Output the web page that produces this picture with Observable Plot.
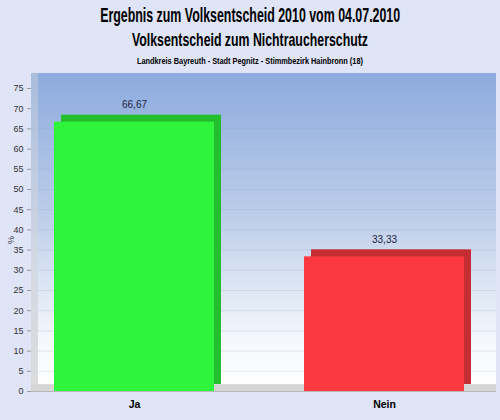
<!DOCTYPE html>
<html>
<head>
<meta charset="utf-8">
<script src="https://cdn.jsdelivr.net/npm/d3@7"></script>
<script src="https://cdn.jsdelivr.net/npm/@observablehq/plot@0.6"></script>
<style>
  html, body { margin: 0; padding: 0; background: #dfe4f6; width: 500px; height: 420px; overflow: hidden; }
  #head { height: 66px; text-align: center; font-family: "Liberation Sans", Arial, sans-serif; color: #000; position: relative; }
  #head span { display: inline-block; white-space: nowrap; font-weight: bold; transform-origin: center center; }
  .row { position: absolute; left: 0; width: 500px; text-align: center; }
  #r1 { top: 4px; font-size: 20px; line-height: 22px; }
  #r2 { top: 29px; font-size: 19px; line-height: 22px; }
  #r3 { top: 55px; font-size: 9.5px; line-height: 12px; }
  #chart svg { display: block; }
</style>
</head>
<body>
<div id="head">
  <div class="row" id="r1"><span data-w="300">Ergebnis zum Volksentscheid 2010 vom 04.07.2010</span></div>
  <div class="row" id="r2"><span data-w="236">Volksentscheid zum Nichtraucherschutz</span></div>
  <div class="row" id="r3"><span data-w="226">Landkreis Bayreuth - Stadt Pegnitz - Stimmbezirk Hainbronn (18)</span></div>
</div>
<div id="chart"></div>
<script>
const categories = ["Ja", "Nein"];
const values = [66.67, 33.33];
const valueLabels = ["66,67", "33,33"];
const yTicks = [0, 5, 10, 15, 20, 25, 30, 35, 40, 45, 50, 55, 60, 65, 70, 75];

const frontColors = ["#2ef53c", "#fb3a3f"];
const data = categories.map((c, i) => ({cat: c, value: values[i], label: valueLabels[i]}));

// condense header text to the reference's narrow typeface widths
document.querySelectorAll("#head span").forEach(s => {
  const w = s.getBoundingClientRect().width;
  s.style.transform = `scaleX(${(+s.dataset.w) / w})`;
});

const font = '"Liberation Sans", Arial, sans-serif';

const defs = () => {
  const g = document.createElementNS("http://www.w3.org/2000/svg", "g");
  g.innerHTML = `<defs>
    <linearGradient id="wall" x1="0" y1="0" x2="0" y2="1">
      <stop offset="0" stop-color="#8dabde"/>
      <stop offset="0.45" stop-color="#bccde9"/>
      <stop offset="0.85" stop-color="#f4f7fc"/>
      <stop offset="1" stop-color="#ffffff"/>
    </linearGradient>
    <linearGradient id="side" x1="0" y1="0" x2="0" y2="1">
      <stop offset="0" stop-color="#a9bcdc"/>
      <stop offset="0.6" stop-color="#d3d9e4"/>
      <stop offset="1" stop-color="#dcdcdc"/>
    </linearGradient>
  </defs>`;
  return g;
};

const chart = Plot.plot({
  width: 500,
  height: 354,
  marginLeft: 31,
  marginRight: 4,
  marginTop: 22,
  marginBottom: 29,
  style: {background: "transparent", fontFamily: font, fontSize: "9px", color: "#222"},
  x: {domain: categories, paddingInner: 0.3586, paddingOuter: 0.1056, align: 0.415, label: null},
  y: {domain: [0, 75], label: "%"},
  color: {domain: categories, range: frontColors},
  marks: [
    defs,
    Plot.rect([{}], {y1: () => 1.5, y2: () => 78.7, insetLeft: 7, fill: "url(#wall)"}),
    Plot.rect([{}], {y1: () => 0, y2: () => 78.7, insetRight: 458, fill: "url(#side)"}),
    Plot.gridY(yTicks, {stroke: "#8fa6cc", strokeOpacity: 0.22, insetLeft: 7}),
    Plot.rect([{}], {y1: () => 0, y2: () => 1.7, fill: "#d6d6d6"}),
    Plot.ruleY([0], {stroke: "#b8b8b8", strokeWidth: 1}),
    Plot.barY(data, {x: "cat", y: "value", fill: "cat", dx: 7, dy: -7}),
    Plot.barY(data, {x: "cat", y: "value", fill: "#000", fillOpacity: 0.22, dx: 7, dy: -7}),
    Plot.barY(data, {x: "cat", y: "value", fill: "cat"}),
    Plot.text(data, {x: "cat", y: "value", text: "label", dy: -17, fill: "#1b2540", fontSize: 10}),
    Plot.axisY(yTicks, {tickSize: 4, tickPadding: 4, stroke: "#999", fill: "#333", fontSize: 9, label: "%", labelAnchor: "center", labelOffset: 24, labelArrow: "none"}),
    Plot.axisX({tickSize: 0, tickPadding: 9, fontSize: 10.5, fontWeight: "bold", fill: "#000", label: null})
  ]
});
document.getElementById("chart").appendChild(chart);
</script>
</body>
</html>
